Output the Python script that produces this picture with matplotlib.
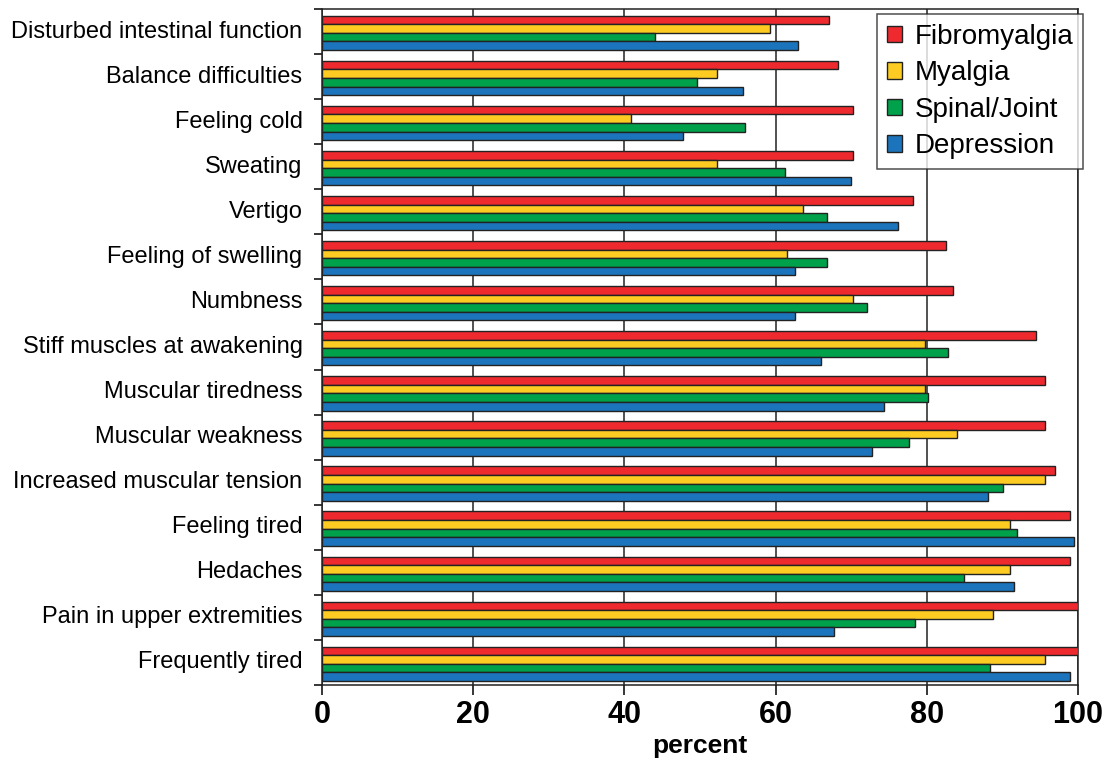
import numpy as np
import matplotlib
matplotlib.use("Agg")
import matplotlib.pyplot as plt

plt.rcParams['font.family'] = ['Liberation Sans', 'DejaVu Sans']

# categories, top to bottom as in the chart
symptoms = ['Disturbed intestinal function', 'Balance difficulties', 'Feeling cold',
            'Sweating', 'Vertigo', 'Feeling of swelling', 'Numbness',
            'Stiff muscles at awakening', 'Muscular tiredness', 'Muscular weakness',
            'Increased muscular tension', 'Feeling tired', 'Hedaches',
            'Pain in upper extremities', 'Frequently tired']

fibromyalgia = [67.1, 68.3, 70.3, 70.3, 78.2, 82.6, 83.4, 94.5, 95.7, 95.7, 96.9, 98.9, 98.9, 100, 100]
myalgia = [59.3, 52.2, 40.9, 52.2, 63.6, 61.5, 70.3, 79.7, 79.7, 84.0, 95.7, 91.0, 91.0, 88.7, 95.7]
spinal = [44.0, 49.6, 56.0, 61.2, 66.8, 66.8, 72.1, 82.8, 80.2, 77.6, 90.1, 91.9, 84.9, 78.5, 88.4]
depression = [63.0, 55.7, 47.8, 70.0, 76.2, 62.5, 62.5, 66.0, 74.4, 72.7, 88.1, 99.5, 91.6, 67.7, 98.9]

series = [('Fibromyalgia', fibromyalgia, '#EE2A2E'),
          ('Myalgia', myalgia, '#FDCB22'),
          ('Spinal/Joint', spinal, '#00A14B'),
          ('Depression', depression, '#1C75BC')]

fig = plt.figure(figsize=(11.11, 7.62), dpi=100)
ax = fig.add_axes([322 / 1111, 1 - 685 / 762, 756 / 1111, 676 / 762])

y = np.arange(len(symptoms))
h = 0.19
for k, (name, vals, col) in enumerate(series):
    ax.barh(y + (k - 1.5) * h + 0.03, vals, height=h, color=col,
            edgecolor='#222222', linewidth=1.0, label=name, zorder=3)

ax.set_xlim(0, 100)
ax.set_ylim(len(symptoms) - 0.5, -0.5)

# vertical grid lines
ax.set_xticks([0, 20, 40, 60, 80, 100])
ax.grid(axis='x', color='#222222', linewidth=1.1, zorder=0)
ax.tick_params(axis='x', direction='out', length=7, width=1.1, pad=4)
for lab in ax.get_xticklabels():
    lab.set_fontsize(22)
    lab.set_fontweight('bold')
fig.text(700 / 1111, 1 - 746 / 762, 'percent', fontsize=19, fontweight='bold',
         ha='center', va='center')

# category labels at centres, tick marks at group boundaries
ax.set_yticks(y)
ax.set_yticklabels(symptoms, fontsize=17, va='center')
ax.tick_params(axis='y', which='major', length=0, pad=14)
ax.set_yticks(np.arange(-0.5, len(symptoms)), minor=True)
ax.tick_params(axis='y', which='minor', direction='out', length=6, width=1.1)

for s in ax.spines.values():
    s.set_linewidth(1.1)
    s.set_color('#222222')

leg = ax.legend(loc='upper right', bbox_to_anchor=(1083 / 1111, 1 - 14 / 762),
                bbox_transform=fig.transFigure, fontsize=20, frameon=True,
                fancybox=False, edgecolor='#222222', handlelength=0.55,
                handleheight=0.55, handletextpad=0.45, labelspacing=0.38,
                borderpad=0.35, borderaxespad=0)
leg.get_frame().set_linewidth(1.1)
leg.set_zorder(5)

fig.savefig('out.png', dpi=100)
